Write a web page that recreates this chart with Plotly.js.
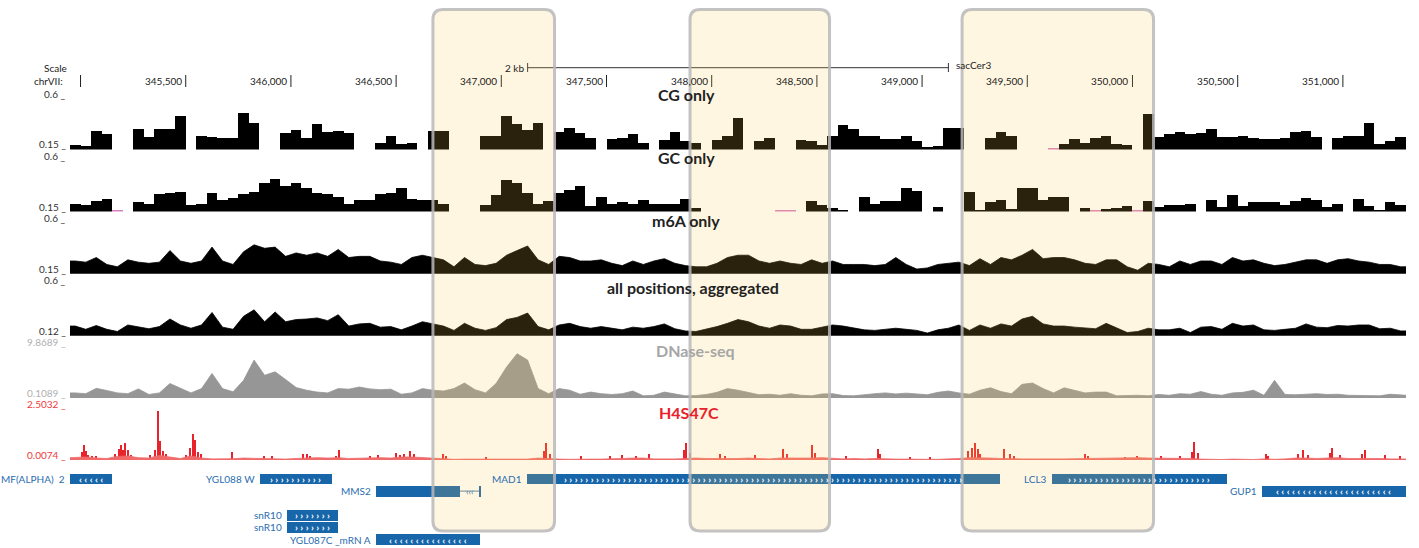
<!DOCTYPE html>
<html><head><meta charset="utf-8">
<script src="https://cdn.plot.ly/plotly-3.0.1.min.js"></script>
<style>html,body{margin:0;padding:0;background:#fff}#chart{width:1419px;height:548px}</style>
</head><body><div id="chart"></div>
<script>
// ---------------- DATA ----------------
const chromName = "chrVII:";
const binStart = 344950, binSize = 50, viewEnd = 351300;

const cgOnly = [0.19,0.18,0.31,0.28,null,null,0.33,0.26,0.33,0.33,
0.44,null,0.27,0.26,0.25,0.25,0.47,0.38,null,null,
0.29,0.32,0.25,0.37,0.30,0.31,0.29,null,null,0.21,
0.27,0.20,0.21,null,0.31,0.31,null,null,null,0.27,
0.27,0.44,0.37,0.32,0.38,null,0.30,0.34,0.29,0.25,
null,0.24,0.25,0.28,0.21,null,0.23,0.30,0.22,0.21,
null,0.23,0.27,0.42,null,0.22,0.25,null,null,0.23,
0.22,0.19,0.27,0.36,0.33,0.27,0.27,0.24,0.24,0.27,
0.22,0.17,0.18,0.34,0.34,null,null,0.25,0.30,0.27,
null,null,null,0.10,0.20,0.24,0.21,0.25,0.27,0.20,
0.19,null,0.46,0.26,0.28,0.30,0.28,0.29,0.33,0.26,
0.26,0.27,0.25,0.24,0.24,0.25,0.30,0.31,0.26,null,
0.25,0.27,0.27,0.38,0.20,0.22,0.26];

const gcOnly = [0.22,0.21,0.24,0.26,0.10,null,0.23,0.22,0.30,0.31,
0.32,0.21,0.22,0.31,0.25,0.27,0.30,0.32,0.40,0.43,
0.37,0.40,0.35,0.31,0.30,0.28,0.22,0.25,0.25,0.30,
0.31,0.35,0.26,0.25,0.25,0.22,null,null,null,0.21,
0.29,0.42,0.40,0.31,0.22,0.24,0.31,0.34,0.37,0.20,
0.28,0.22,0.23,0.22,0.25,0.22,0.22,0.22,0.26,0.18,
null,null,null,null,null,null,null,0.10,0.10,null,
0.24,0.21,0.18,0.16,null,0.28,0.22,0.24,0.24,0.35,
0.33,null,0.19,null,null,0.32,0.16,0.23,0.25,0.17,
0.35,0.35,0.25,0.28,0.28,null,0.18,0.10,0.17,0.18,
0.20,0.10,0.24,0.19,0.21,0.21,0.22,null,0.25,0.19,
0.29,0.20,0.23,0.23,0.23,0.21,0.24,0.27,0.25,0.19,
0.22,null,0.26,0.20,0.16,0.23,0.21];

const m6aOnly = [0.26,0.25,0.29,0.23,0.21,0.27,0.25,0.24,0.25,0.35,
0.26,0.24,0.26,0.38,0.26,0.23,0.34,0.40,0.37,0.38,
0.30,0.33,0.31,0.33,0.30,0.36,0.29,0.30,0.30,0.26,
0.25,0.23,0.29,0.31,0.29,0.27,0.21,0.29,0.23,0.22,
0.24,0.31,0.35,0.39,0.27,0.23,0.30,0.29,0.26,0.26,
0.27,0.24,0.22,0.26,0.23,0.26,0.28,0.24,0.22,0.21,
0.21,0.24,0.29,0.31,0.31,0.26,0.24,0.26,0.24,0.23,
0.27,0.24,0.26,0.23,0.23,0.23,0.22,0.23,0.29,0.23,
0.19,0.20,0.23,0.24,0.25,0.22,0.28,0.23,0.29,0.27,
0.31,0.36,0.28,0.29,0.29,0.27,0.24,0.23,0.27,0.27,
0.21,0.18,0.24,0.23,0.21,0.26,0.23,0.26,0.26,0.23,
0.29,0.26,0.27,0.24,0.22,0.23,0.25,0.27,0.27,0.24,
0.27,0.28,0.26,0.25,0.23,0.23,0.21];

const allPositions = [0.21,0.18,0.215,0.18,0.16,0.22,0.20,0.185,0.205,0.275,
0.22,0.19,0.22,0.335,0.20,0.18,0.30,0.36,0.25,0.34,
0.25,0.27,0.275,0.285,0.26,0.315,0.21,0.23,0.235,0.20,
0.205,0.175,0.21,0.25,0.23,0.21,0.17,0.235,0.19,0.17,
0.195,0.27,0.29,0.33,0.205,0.175,0.22,0.235,0.205,0.19,
0.205,0.19,0.175,0.20,0.19,0.205,0.23,0.185,0.165,0.16,
0.18,0.205,0.235,0.27,0.25,0.21,0.19,0.22,0.21,0.18,
0.18,0.20,0.22,0.21,0.19,0.175,0.17,0.18,0.19,0.18,
0.17,0.145,0.175,0.19,0.22,0.17,0.22,0.19,0.23,0.21,
0.275,0.30,0.23,0.21,0.21,0.20,0.19,0.185,0.235,0.19,
0.15,0.16,0.19,0.175,0.175,0.19,0.15,0.20,0.205,0.18,
0.235,0.21,0.22,0.175,0.17,0.18,0.19,0.23,0.20,0.195,
0.215,0.21,0.22,0.22,0.185,0.19,0.165];

const dnaseSeq = [1.05,0.9,1.9,1.5,1.05,0.9,1.8,0.75,1.05,2.8,
1.85,1.05,1.85,4.7,1.85,1.25,3.4,7.2,4.35,5.0,
3.55,2.05,1.55,1.2,1.05,1.85,1.75,2.15,1.8,1.65,
1.75,0.8,1.05,1.85,1.55,1.4,1.85,2.9,1.65,1.05,
2.8,5.9,8.4,7.2,1.85,0.9,1.85,1.55,0.8,1.2,
0.9,0.75,0.9,1.4,0.5,0.6,1.2,0.9,0.5,0.55,
0.75,1.15,1.85,1.55,1.1,0.7,0.8,0.6,0.9,0.6,
0.5,0.85,0.9,0.55,0.5,0.75,0.9,1.05,0.85,1.0,
0.9,0.7,1.15,1.4,1.05,0.8,1.55,2.0,1.3,0.9,
2.65,2.9,1.85,1.05,2.0,1.55,1.05,1.2,1.2,0.5,
0.6,0.6,0.5,0.75,0.6,0.9,0.8,1.3,0.8,0.6,
1.05,1.15,1.55,0.6,3.4,0.75,0.7,0.8,0.9,0.75,
0.8,0.6,0.6,0.6,0.5,0.8,0.6];

const h4s47cBackground = [0.12,0.15,0.10,0.08,0.18,0.20,0.12,0.10,0.22,0.15,
0.08,0.20,0.10,0.06,0.05,0.07,0.10,0.08,0.06,0.05,
0.05,0.08,0.10,0.12,0.10,0.12,0.08,0.10,0.10,0.12,
0.10,0.15,0.15,0.12,0.08,0.06,0.04,0.05,0.05,0.04,
0.04,0.05,0.04,0.05,0.10,0.06,0.05,0.04,0.06,0.05,
0.05,0.08,0.08,0.10,0.10,0.06,0.05,0.06,0.08,0.10,
0.08,0.08,0.06,0.08,0.10,0.08,0.06,0.10,0.10,0.08,
0.10,0.12,0.08,0.06,0.08,0.06,0.08,0.05,0.05,0.05,
0.06,0.04,0.04,0.05,0.08,0.12,0.12,0.10,0.08,0.06,
0.06,0.06,0.05,0.07,0.06,0.07,0.08,0.08,0.10,0.08,
0.10,0.12,0.10,0.10,0.08,0.10,0.08,0.05,0.03,0.03,
0.05,0.03,0.03,0.06,0.04,0.06,0.10,0.10,0.08,0.10,
0.12,0.08,0.08,0.10,0.08,0.06,0.06];

const h4s47cPeakPos = [345007,345017,345026,345036,345055,345074,345164,345183,345192,345202,345211,345226,345240,
345330,345354,345368,345378,345392,345406,345501,345520,345535,345544,345558,345573,345720,345872,345910,
346057,346076,346091,346214,346229,346376,346414,346499,346518,346537,346566,346585,346723,346737,346927,
347203,347212,347231,347379,347517,347574,347640,347702,347868,347878,347897,348039,348063,348206,348339,
348358,348477,348491,348638,348790,348800,348943,349038,349218,349237,349251,349266,349275,349389,349418,
349437,349774,349789,349964,350021,350136,350226,350283,350292,350311,350634,350644,350787,350810,350834,
350939,350948,350986,351091,351105,351200,351271];
const h4s47cPeakVal = [0.40,0.73,0.45,0.25,0.20,0.22,0.30,0.55,0.75,0.50,0.80,0.50,0.25,
0.25,0.50,2.35,0.90,0.45,0.30,0.25,0.60,1.27,0.95,0.40,0.30,0.37,0.20,0.22,
0.30,0.28,0.20,0.22,0.47,0.20,0.25,0.35,0.25,0.30,0.45,0.30,0.28,0.20,0.15,
0.45,0.80,0.30,0.20,0.20,0.25,0.20,0.30,0.50,0.80,0.35,0.30,0.20,0.25,0.52,
0.30,0.73,0.35,0.20,0.52,0.30,0.15,0.15,0.45,0.60,0.80,0.55,0.30,0.55,0.30,
0.20,0.30,0.20,0.15,0.18,0.20,0.20,0.40,0.88,0.35,0.30,0.20,0.30,0.47,0.25,
0.35,0.60,0.25,0.30,0.47,0.25,0.20];

const trackTitles = ["CG only","GC only","m6A only","all positions, aggregated","DNase-seq","H4S47C"];
const trackMin = [0.15,0.15,0.15,0.12,0.1089,0.0074];
const trackMax = [0.6,0.6,0.6,0.6,9.8689,2.5032];
const trackMinLabel = ["0.15","0.15","0.15","0.12","0.1089","0.0074"];
const trackMaxLabel = ["0.6","0.6","0.6","0.6","9.8689","2.5032"];

const rulerTickPos = [345000,345500,346000,346500,347000,347500,348000,348500,349000,349500,350000,350500,351000];
const rulerTickLabel = ["","345,500","346,000","346,500","347,000","347,500","348,000","348,500","349,000","349,500","350,000","350,500","351,000"];
const scaleBarStart = 347125, scaleBarLength = 2000, scaleBarLabel = "2 kb", assemblyName = "sacCer3";

const geneName   = ["MF(ALPHA)  2","YGL088 W","MAD1","LCL3","MMS2","","GUP1","snR10","snR10","YGL087C _mRN A"];
const geneStart  = [344950,345853,347122,349617,346404,346895,350615,345981,345981,346404];
const geneEnd    = [345150,346195,349370,350449,346804,346903,351300,346224,346224,346899];
const geneRow    = [0,0,0,0,1,1,1,3,4,5];
const geneStrand = ["-","+","+","+","","","-","+","+","-"];
const intronStart = [346804], intronEnd = [346895], intronRow = [1];

const highlightStart = [346675, 347897, 349190];
const highlightEnd   = [347253, 348560, 350100];

// ---------------- LAYOUT HELPERS ----------------
const W = 1419, H = 548, L = 70, R = 13;
const plotW = W - L - R;
const bpPerPx = (viewEnd - binStart) / plotW;
const pY = py => 1 - py / H;
const pX = px => (px - L) / plotW;
const FONT = "Lato, 'Open Sans', 'DejaVu Sans', sans-serif";

const trackBottom = [149.5, 211.6, 273.7, 335.8, 397.9, 460.0];
const trackHeight = 52;
const titleY = [94, 157.5, 220, 287, 350, 412];
const titleX = [686, 686, 686, 693, 695, 689];
const titleColor = ["#222","#222","#222","#222","#a6a6a6","#e8212a"];
const labelColor = ["#333","#333","#333","#333","#b0b0b0","#ee3a3a"];

const centers = cgOnly.map((_, i) => binStart + binSize * (i + 0.5));
const traces = [];
const annotations = [];
const shapes = [];

const layout = {
  width: W, height: H,
  margin: {l: L, r: R, t: 0, b: 0, pad: 0},
  paper_bgcolor: "#ffffff", plot_bgcolor: "rgba(0,0,0,0)",
  showlegend: false, barmode: "overlay", bargap: 0,
  font: {family: FONT, size: 10, color: "#333"},
  xaxis: {range: [binStart, viewEnd], visible: false, fixedrange: true}
};

const axName = k => k === 0 ? "yaxis" : "yaxis" + (k + 1);
const axRef = k => k === 0 ? "y" : "y" + (k + 1);

for (let k = 0; k < 6; k++) {
  const bot = trackBottom[k], top = bot - trackHeight;
  layout[axName(k)] = {domain: [pY(bot), pY(top)], range: [trackMin[k], trackMax[k]],
    visible: false, fixedrange: true, anchor: "x"};
  annotations.push({xref: "paper", yref: "paper", x: pX(68), y: pY(top - 4), xanchor: "right", yanchor: "middle",
    text: trackMaxLabel[k] + " _", showarrow: false, font: {size: 10, color: labelColor[k]}});
  annotations.push({xref: "paper", yref: "paper", x: pX(68), y: pY(bot - 5), xanchor: "right", yanchor: "middle",
    text: trackMinLabel[k] + " _", showarrow: false, font: {size: 10, color: labelColor[k]}});
  annotations.push({xref: "paper", yref: "paper", x: pX(titleX[k]), y: pY(titleY[k]), xanchor: "center", yanchor: "middle",
    text: "<b>" + trackTitles[k] + "</b>", showarrow: false, font: {size: 16, color: titleColor[k]}});
}
// gene axis
layout.yaxis7 = {domain: [0, pY(470)], range: [(548 - 479) / 12.1, (470 - 479) / 12.1], visible: false, fixedrange: true, anchor: "x"};

function barTrack(vals, k, color, lowColor) {
  const xs = [], ys = [], lx = [];
  vals.forEach((v, i) => {
    if (v === null) return;
    if (v < trackMin[k]) lx.push(centers[i]); else { xs.push(centers[i]); ys.push(v); }
  });
  traces.push({type: "bar", x: xs, y: ys, width: binSize, yaxis: axRef(k),
    marker: {color: color, line: {width: 0}}, hoverinfo: "skip"});
  const h = (trackMax[k] - trackMin[k]) / trackHeight * 2;
  traces.push({type: "bar", x: lx, y: lx.map(() => h), base: trackMin[k], width: binSize, yaxis: axRef(k),
    marker: {color: lowColor, line: {width: 0}}, hoverinfo: "skip"});
}
function areaTrack(vals, k, color) {
  const xs = [binStart].concat(centers, [viewEnd]);
  const ys = [vals[0]].concat(vals, [vals[vals.length - 1]]);
  traces.push({type: "scatter", mode: "lines", x: xs, y: ys, yaxis: axRef(k), fill: "tozeroy",
    line: {color: color, width: 0.8}, fillcolor: color, hoverinfo: "skip"});
}
barTrack(cgOnly, 0, "#000000", "#d97fbf");
barTrack(gcOnly, 1, "#000000", "#d97fbf");
areaTrack(m6aOnly, 2, "#000000");
areaTrack(allPositions, 3, "#000000");
areaTrack(dnaseSeq, 4, "#969696");
areaTrack(h4s47cBackground, 5, "#f06a6a");
traces.push({type: "bar", x: h4s47cPeakPos, y: h4s47cPeakVal, width: 7, yaxis: "y6",
  marker: {color: "#e8232b", line: {width: 0}}, hoverinfo: "skip"});

// genes
const geneBlue = "#1766aa";
traces.push({type: "bar", orientation: "h", yaxis: "y7",
  y: geneRow, base: geneStart, x: geneStart.map((s, i) => geneEnd[i] - s), width: 0.9,
  marker: {color: geneBlue, line: {width: 0}}, hoverinfo: "skip"});
intronStart.forEach((s, i) => {
  traces.push({type: "scatter", mode: "lines", yaxis: "y7", x: [s, intronEnd[i]], y: [intronRow[i], intronRow[i]],
    line: {color: "#4a7fa8", width: 1}, hoverinfo: "skip"});
  annotations.push({xref: "x", yref: "y7", x: (s + intronEnd[i]) / 2, y: intronRow[i], text: "‹‹‹", showarrow: false,
    font: {size: 9, color: "#4a7fa8"}, xanchor: "center", yanchor: "middle"});
});
geneName.forEach((n, i) => {
  if (n) annotations.push({xref: "x", yref: "y7", x: geneStart[i], y: geneRow[i], xanchor: "right", yanchor: "middle",
    xshift: -3, text: n, showarrow: false, font: {size: 10, color: "#2a6db0"}});
  if (geneStrand[i]) {
    const wpx = (geneEnd[i] - geneStart[i]) / bpPerPx;
    const cnt = Math.max(1, Math.floor((wpx - 6) / 6.2));
    const ch = geneStrand[i] === "+" ? "›" : "‹";
    annotations.push({xref: "x", yref: "y7", x: (geneStart[i] + geneEnd[i]) / 2, y: geneRow[i], xanchor: "center", yanchor: "middle",
      borderpad: 0, text: "<b>" + Array(cnt).fill(ch).join(" ") + "</b>", showarrow: false, font: {size: 10, color: "#ffffff"}});
  }
});

// ruler
rulerTickPos.forEach((p, i) => {
  shapes.push({type: "line", xref: "x", yref: "paper", x0: p, x1: p, y0: pY(87), y1: pY(75), line: {color: "#222", width: 1}});
  if (rulerTickLabel[i]) annotations.push({xref: "x", yref: "paper", x: p, y: pY(81), xanchor: "right", yanchor: "middle",
    xshift: -2, text: rulerTickLabel[i], showarrow: false, font: {size: 10, color: "#222"}});
});
annotations.push({xref: "paper", yref: "paper", x: pX(69), y: pY(68), xanchor: "right", yanchor: "middle", text: "Scale", showarrow: false, font: {size: 10, color: "#222"}});
annotations.push({xref: "paper", yref: "paper", x: pX(65), y: pY(81), xanchor: "right", yanchor: "middle", text: chromName, showarrow: false, font: {size: 10, color: "#222"}});
const sbEnd = scaleBarStart + scaleBarLength;
shapes.push({type: "line", xref: "x", yref: "paper", x0: scaleBarStart, x1: sbEnd, y0: pY(67.7), y1: pY(67.7), line: {color: "#333", width: 1}});
[scaleBarStart, sbEnd].forEach(p => shapes.push({type: "line", xref: "x", yref: "paper", x0: p, x1: p, y0: pY(72), y1: pY(63), line: {color: "#333", width: 1}}));
annotations.push({xref: "x", yref: "paper", x: scaleBarStart, y: pY(67.5), xanchor: "right", yanchor: "middle", xshift: -2, text: scaleBarLabel, showarrow: false, font: {size: 10, color: "#222"}});
annotations.push({xref: "x", yref: "paper", x: sbEnd, y: pY(65), xanchor: "left", yanchor: "middle", xshift: 6, text: assemblyName, showarrow: false, font: {size: 10, color: "#222"}});

// highlights (rounded)
function roundRect(x0, x1, y0, y1, rx, ry) {
  return `M${x0 + rx},${y1} L${x1 - rx},${y1} Q${x1},${y1} ${x1},${y1 - ry} L${x1},${y0 + ry} Q${x1},${y0} ${x1 - rx},${y0} ` +
         `L${x0 + rx},${y0} Q${x0},${y0} ${x0},${y0 + ry} L${x0},${y1 - ry} Q${x0},${y1} ${x0 + rx},${y1} Z`;
}
highlightStart.forEach((s, i) => {
  shapes.push({type: "path", xref: "x", yref: "paper", layer: "above",
    path: roundRect(s, highlightEnd[i], pY(531), pY(9.5), 10 * bpPerPx, 10 / H),
    fillcolor: "rgba(255,200,80,0.17)", line: {color: "rgba(185,185,185,0.85)", width: 3}});
});

layout.shapes = shapes;
layout.annotations = annotations;
Plotly.newPlot("chart", traces, layout, {staticPlot: true, displayModeBar: false});
</script>
</body></html>
